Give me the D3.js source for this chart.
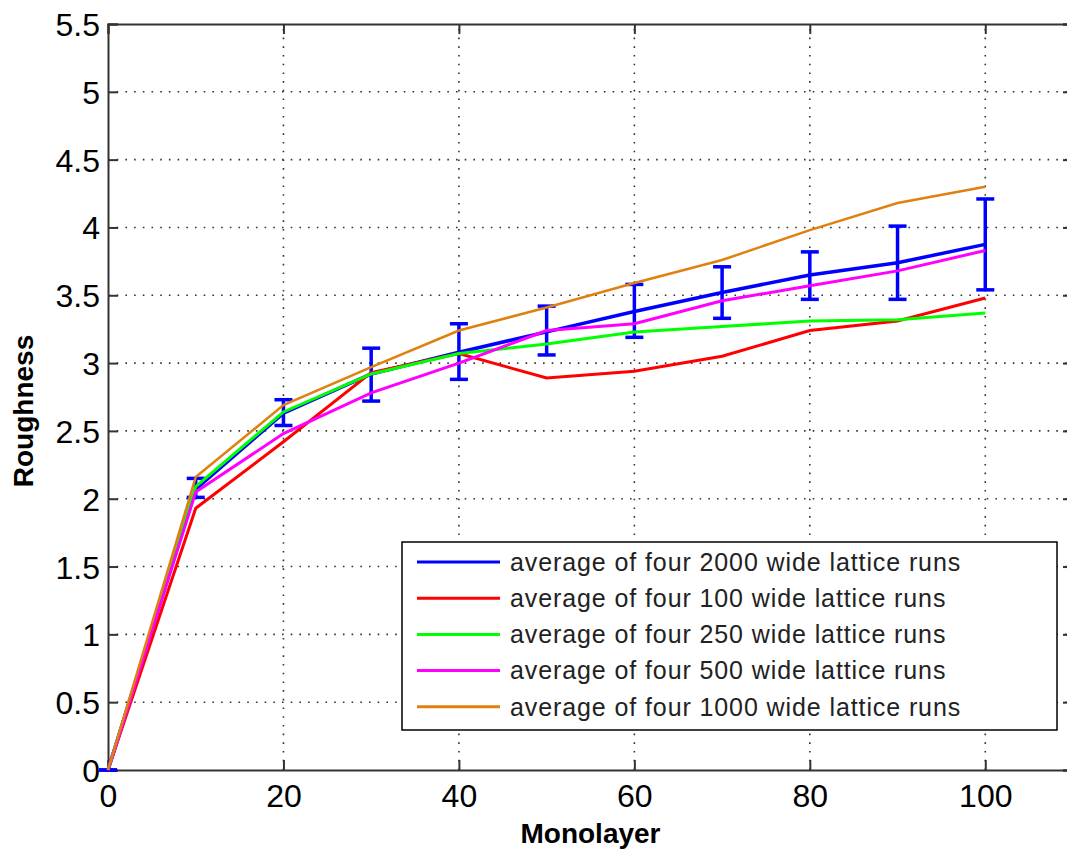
<html>
<head>
<script src="https://d3js.org/d3.v7.min.js"></script>
<title>Roughness vs monolayer</title>
<style>
  body { margin: 0; background: white; }
  text { font-family: Arial, "Liberation Sans", sans-serif; }
</style>
</head>
<body>
<script>

// Monolayer values (x axis)
var monolayer = [0, 10, 20, 30, 40, 50, 60, 70, 80, 90, 100];

// Roughness, average of four runs for each lattice width
var w2000 = [0, 2.07, 2.63, 2.92, 3.08, 3.23, 3.38, 3.52, 3.65, 3.74, 3.875];
var w100  = [0, 1.93, 2.42, 2.93, 3.07, 2.89, 2.94, 3.05, 3.24, 3.31, 3.48];
var w250  = [0, 2.09, 2.64, 2.92, 3.07, 3.14, 3.23, 3.27, 3.31, 3.32, 3.37];
var w500  = [0, 2.05, 2.48, 2.78, 3.00, 3.24, 3.29, 3.46, 3.57, 3.68, 3.83];
var w1000 = [0, 2.16, 2.69, 2.97, 3.24, 3.41, 3.59, 3.76, 3.98, 4.18, 4.30];

// Error bars of the 2000 wide runs (lower and upper ends)
var lo2000 = [0, 2.01, 2.54, 2.72, 2.88, 3.06, 3.19, 3.33, 3.47, 3.47, 3.54];
var hi2000 = [0, 2.15, 2.73, 3.11, 3.29, 3.42, 3.58, 3.71, 3.82, 4.01, 4.21];

// Tick values
var xTicks = [0, 20, 40, 60, 80, 100];
var yTicks = [0, 0.5, 1, 1.5, 2, 2.5, 3, 3.5, 4, 4.5, 5, 5.5];

var seriesNames = [
  "average of four 2000 wide lattice runs",
  "average of four 100 wide lattice runs",
  "average of four 250 wide lattice runs",
  "average of four 500 wide lattice runs",
  "average of four 1000 wide lattice runs"
];
var seriesValues = [w2000, w100, w250, w500, w1000];
var colors = ["#0000ff", "#ff0000", "#00ff00", "#ff00ff", "#df8010"];
var widths = [3.5, 3, 3, 3, 2.5];

var width = 1067, height = 852;
// plot box (right edge falls just outside the picture, like the original)
var pLeft = 108, pRight = 1073, pTop = 24, pBottom = 770;

var x = d3.scaleLinear().domain([0, 110]).range([pLeft, pRight]);
var y = d3.scaleLinear().domain([0, 5.5]).range([pBottom, pTop]);

var svg = d3.select("body")
    .append("svg")
    .attr("width", width)
    .attr("height", height);

// Dotted grid
svg.append("g").selectAll("line")
    .data(xTicks.filter(function(d) { return d > 0; }))
    .enter().append("line")
    .attr("x1", function(d) { return x(d); })
    .attr("x2", function(d) { return x(d); })
    .attr("y1", pBottom).attr("y2", pTop)
    .attr("stroke", "#333")
    .attr("stroke-width", 1.6)
    .attr("stroke-dasharray", "1.6,7.1");

svg.append("g").selectAll("line")
    .data(yTicks.filter(function(d) { return d > 0 && d < 5.5; }))
    .enter().append("line")
    .attr("x1", pLeft).attr("x2", pRight)
    .attr("y1", function(d) { return y(d); })
    .attr("y2", function(d) { return y(d); })
    .attr("stroke", "#333")
    .attr("stroke-width", 1.6)
    .attr("stroke-dasharray", "1.6,7.1");

// Axes with ticks pointing inward
var xAxis = svg.append("g")
    .attr("transform", "translate(0," + pBottom + ")")
    .call(d3.axisBottom(x).tickValues(xTicks).tickSize(-10).tickPadding(14));
var xTop = svg.append("g")
    .attr("transform", "translate(0," + pTop + ")")
    .call(d3.axisTop(x).tickValues(xTicks).tickSize(-10).tickFormat(""));
var yAxis = svg.append("g")
    .attr("transform", "translate(" + pLeft + ",0)")
    .call(d3.axisLeft(y).tickValues(yTicks).tickSize(-10).tickPadding(8)
      .tickFormat(function(d) { return d3.format("")(d); }));
var yRight = svg.append("g")
    .attr("transform", "translate(" + pRight + ",0)")
    .call(d3.axisRight(y).tickValues(yTicks).tickSize(-10).tickFormat(""));

svg.selectAll(".domain").attr("stroke", "#333").attr("stroke-width", 2);
svg.selectAll(".tick line").attr("stroke", "#333").attr("stroke-width", 2);
svg.selectAll(".tick text")
    .attr("font-family", "Arial, 'Liberation Sans', sans-serif")
    .attr("font-size", 32)
    .attr("fill", "black");
yAxis.selectAll(".tick text").attr("dy", "0.36em");

// Series lines
var line = d3.line()
    .x(function(d, i) { return x(monolayer[i]); })
    .y(function(d) { return y(d); });

// Blue line first, with its error bars
svg.append("path")
    .attr("d", line(w2000))
    .attr("fill", "none")
    .attr("stroke", colors[0])
    .attr("stroke-width", widths[0]);

var bars = svg.append("g").selectAll("g")
    .data(monolayer)
    .enter().append("g")
    .attr("stroke", colors[0])
    .attr("stroke-width", 3.5);
bars.append("line")
    .attr("x1", function(d) { return x(d); })
    .attr("x2", function(d) { return x(d); })
    .attr("y1", function(d, i) { return y(lo2000[i]); })
    .attr("y2", function(d, i) { return y(hi2000[i]); });
bars.append("line")
    .attr("x1", function(d) { return x(d) - 9; })
    .attr("x2", function(d) { return x(d) + 9; })
    .attr("y1", function(d, i) { return y(lo2000[i]); })
    .attr("y2", function(d, i) { return y(lo2000[i]); });
bars.append("line")
    .attr("x1", function(d) { return x(d) - 9; })
    .attr("x2", function(d) { return x(d) + 9; })
    .attr("y1", function(d, i) { return y(hi2000[i]); })
    .attr("y2", function(d, i) { return y(hi2000[i]); });

// The other runs on top
for (var s = 1; s < seriesValues.length; s++) {
  svg.append("path")
      .attr("d", line(seriesValues[s]))
      .attr("fill", "none")
      .attr("stroke", colors[s])
      .attr("stroke-width", widths[s]);
}

// Axis labels
svg.append("text")
    .attr("x", x(55))
    .attr("y", 843)
    .attr("text-anchor", "middle")
    .attr("font-size", 28)
    .attr("font-weight", "bold")
    .text("Monolayer");

svg.append("text")
    .attr("transform", "translate(33,411) rotate(-90)")
    .attr("text-anchor", "middle")
    .attr("font-size", 28)
    .attr("font-weight", "bold")
    .text("Roughness");

// Legend
var legend = svg.append("g");
legend.append("rect")
    .attr("x", 402).attr("y", 542)
    .attr("width", 655).attr("height", 188)
    .attr("fill", "white")
    .attr("stroke", "black")
    .attr("stroke-width", 1.5);

var item = legend.selectAll(".item")
    .data(seriesNames)
    .enter().append("g")
    .attr("class", "item")
    .attr("transform", function(d, i) { return "translate(0," + (562 + i * 36.2) + ")"; });
item.append("line")
    .attr("x1", 417).attr("x2", 500)
    .attr("stroke", function(d, i) { return colors[i]; })
    .attr("stroke-width", 3);
item.append("text")
    .attr("x", 510)
    .attr("dy", "0.35em")
    .attr("font-size", 25)
    .attr("letter-spacing", 0.9)
    .attr("fill", "#222")
    .text(function(d) { return d; });

</script>
</body>
</html>
